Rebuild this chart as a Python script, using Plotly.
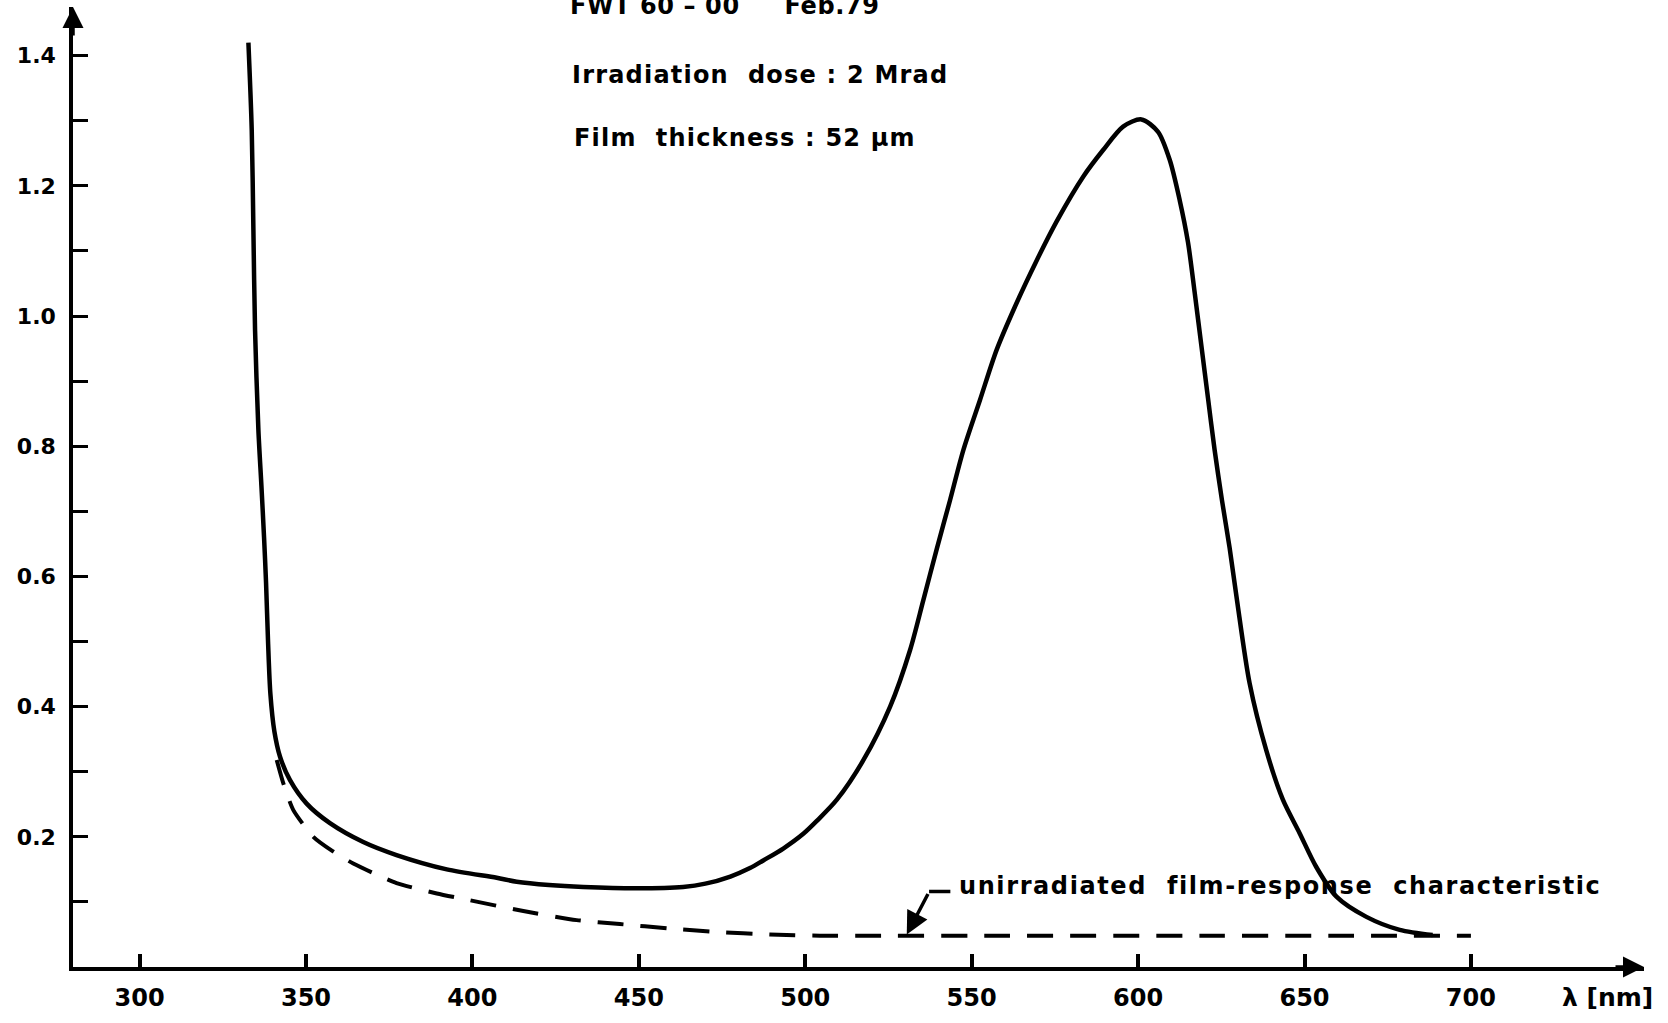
import plotly.graph_objects as go

# ---- data ----
irr_nm = [332.7, 333.7, 334.2, 334.7, 335.7, 336.6, 337.4, 338.0, 338.6, 339.3,
          340.5, 342.2, 345.2, 350.2, 357.2, 367.2, 377.2, 392.3, 407.3, 413.3,
          423.0, 433.3, 449.3, 463.3, 470.0, 477.5, 483.4, 487.5, 493.4, 499.5,
          503.4, 509.5, 517.5, 525.5, 531.5, 535.5, 539.5, 543.5, 547.5, 552.5,
          557.5, 563.5, 569.5, 575.5, 583.5, 589.5, 595.5, 601.0, 606.0, 609.5,
          612.5, 615.0, 617.0, 619.0, 621.0, 623.0, 625.2, 627.5, 629.7, 633.5,
          638.5, 643.5, 648.5, 653.5, 659.6, 668.6, 678.6, 688.5]
irr_val = [1.420, 1.286, 1.132, 0.978, 0.825, 0.740, 0.660, 0.590, 0.500, 0.420,
           0.362, 0.323, 0.287, 0.251, 0.221, 0.192, 0.172, 0.150, 0.137, 0.131,
           0.126, 0.123, 0.121, 0.123, 0.128, 0.139, 0.152, 0.164, 0.182, 0.205,
           0.224, 0.257, 0.318, 0.400, 0.487, 0.564, 0.642, 0.717, 0.794, 0.871,
           0.948, 1.020, 1.085, 1.145, 1.214, 1.255, 1.291, 1.302, 1.283, 1.240,
           1.178, 1.113, 1.036, 0.955, 0.874, 0.794, 0.717, 0.644, 0.564, 0.436,
           0.333, 0.257, 0.206, 0.154, 0.108, 0.077, 0.057, 0.049]

unirr_nm = [341.2, 343.2, 346.2, 352.2, 358.0, 364.2, 377.2, 389.3, 397.8, 415.3,
            431.3, 444.3, 459.3, 473.3, 489.4, 504.4, 518.4, 560.0, 620.0, 660.0, 700.0]
unirr_val = [0.318, 0.282, 0.241, 0.200, 0.178, 0.159, 0.129, 0.113, 0.104, 0.086,
             0.072, 0.066, 0.059, 0.054, 0.050, 0.048, 0.048, 0.048, 0.048, 0.048, 0.048]

x_tick_vals = [300, 350, 400, 450, 500, 550, 600, 650, 700]
x_tick_text = ["300", "350", "400", "450", "500", "550", "600", "650", "700"]
y_tick_vals = [0.1, 0.2, 0.3, 0.4, 0.5, 0.6, 0.7, 0.8, 0.9, 1.0, 1.1, 1.2, 1.3, 1.4]
y_tick_text = ["", "0.2", "", "0.4", "", "0.6", "", "0.8", "", "1.0", "", "1.2", "", "1.4"]

header_lines = ["FWT\u00a060\u00a0\u2013\u00a000\u00a0\u00a0\u00a0\u00a0\u00a0Feb.79",
                "Irradiation\u00a0\u00a0dose\u00a0:\u00a02\u00a0Mrad",
                "Film\u00a0\u00a0thickness\u00a0:\u00a052\u00a0\u00b5m"]
header_spacing = [0.6, 1.2, 1.2]
curve_label = "unirradiated\u00a0\u00a0film-response\u00a0\u00a0characteristic"
x_title = "\u03bb\u00a0[nm]"

FONT = "DejaVu Sans, Verdana, sans-serif"


def spaced(s, px):
    return '<span style="letter-spacing:%spx">%s</span>' % (px, s)


fig = go.Figure()
fig.add_trace(go.Scatter(x=unirr_nm, y=unirr_val, mode="lines",
                         line=dict(color="black", width=4, dash="26px,17px",
                                   shape="spline", smoothing=0.6),
                         hoverinfo="skip"))
fig.add_trace(go.Scatter(x=irr_nm, y=irr_val, mode="lines",
                         line=dict(color="black", width=4.5,
                                   shape="spline", smoothing=0.8),
                         hoverinfo="skip"))

# header text (x in data units, y in paper units)
for txt, sp, px, py in zip(header_lines, header_spacing, [428.7, 429.3, 429.9],
                           [1.001, 0.929, 0.8635]):
    fig.add_annotation(text=spaced(txt, sp), xref="x", yref="paper", x=px, y=py,
                       xanchor="left", yanchor="middle", showarrow=False,
                       font=dict(family=FONT, size=24, color="black", weight="bold"))

# curve label with leader arrow
fig.add_annotation(text=spaced(curve_label, 1.6), xref="x", yref="y", x=545.5, y=0.1244,
                   xanchor="left", yanchor="middle", showarrow=False,
                   font=dict(family=FONT, size=24, color="black", weight="bold"))
fig.add_annotation(text="", x=530.5, y=0.050, xref="x", yref="y",
                   ax=22, ay=-42, showarrow=True, arrowhead=2, arrowsize=1.3,
                   arrowwidth=3.5, arrowcolor="black", standoff=0)
fig.add_shape(type="line", xref="x", yref="y",
              x0=537.2, x1=543.6, y0=0.116, y1=0.116,
              line=dict(color="black", width=3.5))

# axis title
fig.add_annotation(text=x_title, xref="x", yref="paper", x=741.1, y=-0.03125,
                   xanchor="center", yanchor="middle", showarrow=False,
                   font=dict(family=FONT, size=25, color="black", weight="bold"))

# axis arrows
fig.add_annotation(text="", xref="paper", yref="paper", x=0, y=1.0, ax=0, ay=30,
                   showarrow=True, arrowhead=2, arrowsize=1.2, arrowwidth=3.5,
                   arrowcolor="black", standoff=0)
fig.add_annotation(text="", xref="paper", yref="paper", x=1.0, y=0, ax=-30, ay=0,
                   showarrow=True, arrowhead=2, arrowsize=1.2, arrowwidth=3.5,
                   arrowcolor="black", standoff=0)

fig.update_xaxes(range=[280, 752], showgrid=False, zeroline=False,
                 showline=True, linecolor="black", linewidth=3.5,
                 ticks="inside", ticklen=13, tickwidth=3.5, tickcolor="black",
                 tickvals=x_tick_vals, ticktext=x_tick_text,
                 tickfont=dict(family=FONT, size=24, color="black", weight="bold"),
                 ticklabelstandoff=6)
fig.update_yaxes(range=[0, 1.4747], showgrid=False, zeroline=False,
                 showline=True, linecolor="black", linewidth=3.5,
                 ticks="inside", ticklen=15, tickwidth=3, tickcolor="black",
                 tickvals=y_tick_vals, ticktext=y_tick_text,
                 tickfont=dict(family=FONT, size=22, color="black", weight="bold"),
                 ticklabelstandoff=9)

fig.update_layout(width=1668, height=1023, autosize=False,
                  margin=dict(l=73, r=24, t=7, b=56, pad=0),
                  paper_bgcolor="white", plot_bgcolor="white",
                  showlegend=False)

fig.write_html("out.html")
